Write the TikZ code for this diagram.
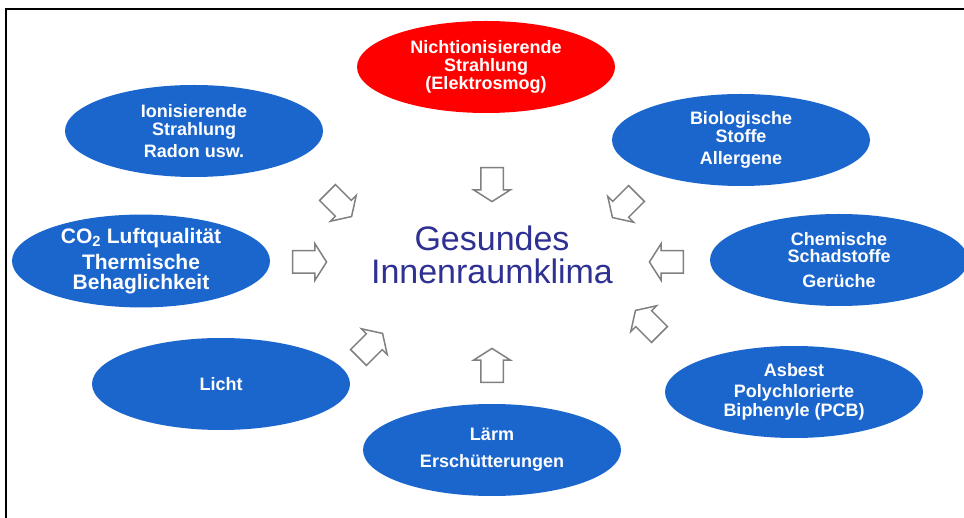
\documentclass[tikz,border=0pt]{standalone}
\usepackage{fontspec}
\setmainfont{Liberation Sans}
\usetikzlibrary{shapes.geometric,shapes.arrows}

\definecolor{ellblue}{RGB}{27,102,204}
\definecolor{ellred}{RGB}{255,0,0}
\definecolor{titleblue}{RGB}{46,49,146}
\definecolor{pfeilgrau}{RGB}{128,128,128}

\tikzset{
    blob/.style={ellipse, fill=ellblue, minimum width=258pt, minimum height=92pt,
        inner sep=0pt, text=white, align=center,
        font=\bfseries\fontsize{18}{18}\selectfont},
    blockarrow/.style={single arrow, draw=pfeilgrau, fill=white, line width=1.5pt,
        minimum height=34pt, inner xsep=0pt, inner ysep=10.5pt,
        single arrow head extend=7pt, single arrow tip angle=115}
}

\begin{document}
\begin{tikzpicture}[x=1pt, y=-1pt]
    \useasboundingbox (0,0) rectangle (964,518);
    \draw[line width=2.5pt] (6,518) -- (6,9) -- (964,9);

    \node[blob, fill=ellred] (nichtion) at (486,67) {Nichtionisierende\\Strahlung\\(Elektrosmog)};
    \node[blob] (ionis) at (194,131) {Ionisierende\\Strahlung\\[4pt]Radon usw.};
    \node[blob] (bio) at (741,140) {Biologische\\Stoffe\\[4pt]Allergene};
    \node[blob, font=\bfseries\fontsize{21}{20}\selectfont] (co2) at (141,261)
        {CO\textsubscript{2} Luftqualität\\[6pt]Thermische\\Behaglichkeit};
    \node[blob, font=\bfseries\fontsize{18}{17}\selectfont] (chem) at (839,260)
        {Chemische\\Schadstoffe\\[8pt]Gerüche};
    \node[blob] (licht) at (221,384) {Licht};
    \node[blob, font=\bfseries\fontsize{18}{19}\selectfont] (asbest) at (794,392)
        {Asbest\\[2pt]Polychlorierte\\Biphenyle (PCB)};
    \node[blob] (laerm) at (492,450) {Lärm\\[9pt]Erschütterungen};

    \node[text=titleblue, align=center, font=\fontsize{34}{33}\selectfont] (klima) at (492,255)
        {Gesundes\\Innenraumklima};

    % Pfeile zur Mitte
    \foreach \x/\y/\r/\n in {492/181/-90/1, 337/202/-45/2, 306/262/0/3, 368/348/45/4,
                             492/369/90/5, 650/325/135/6, 670/262/180/7, 627/203/-135/8} {
        \node[blockarrow, rotate=\r] (pfeil\n) at (\x,\y) {};
    }
\end{tikzpicture}
\end{document}
